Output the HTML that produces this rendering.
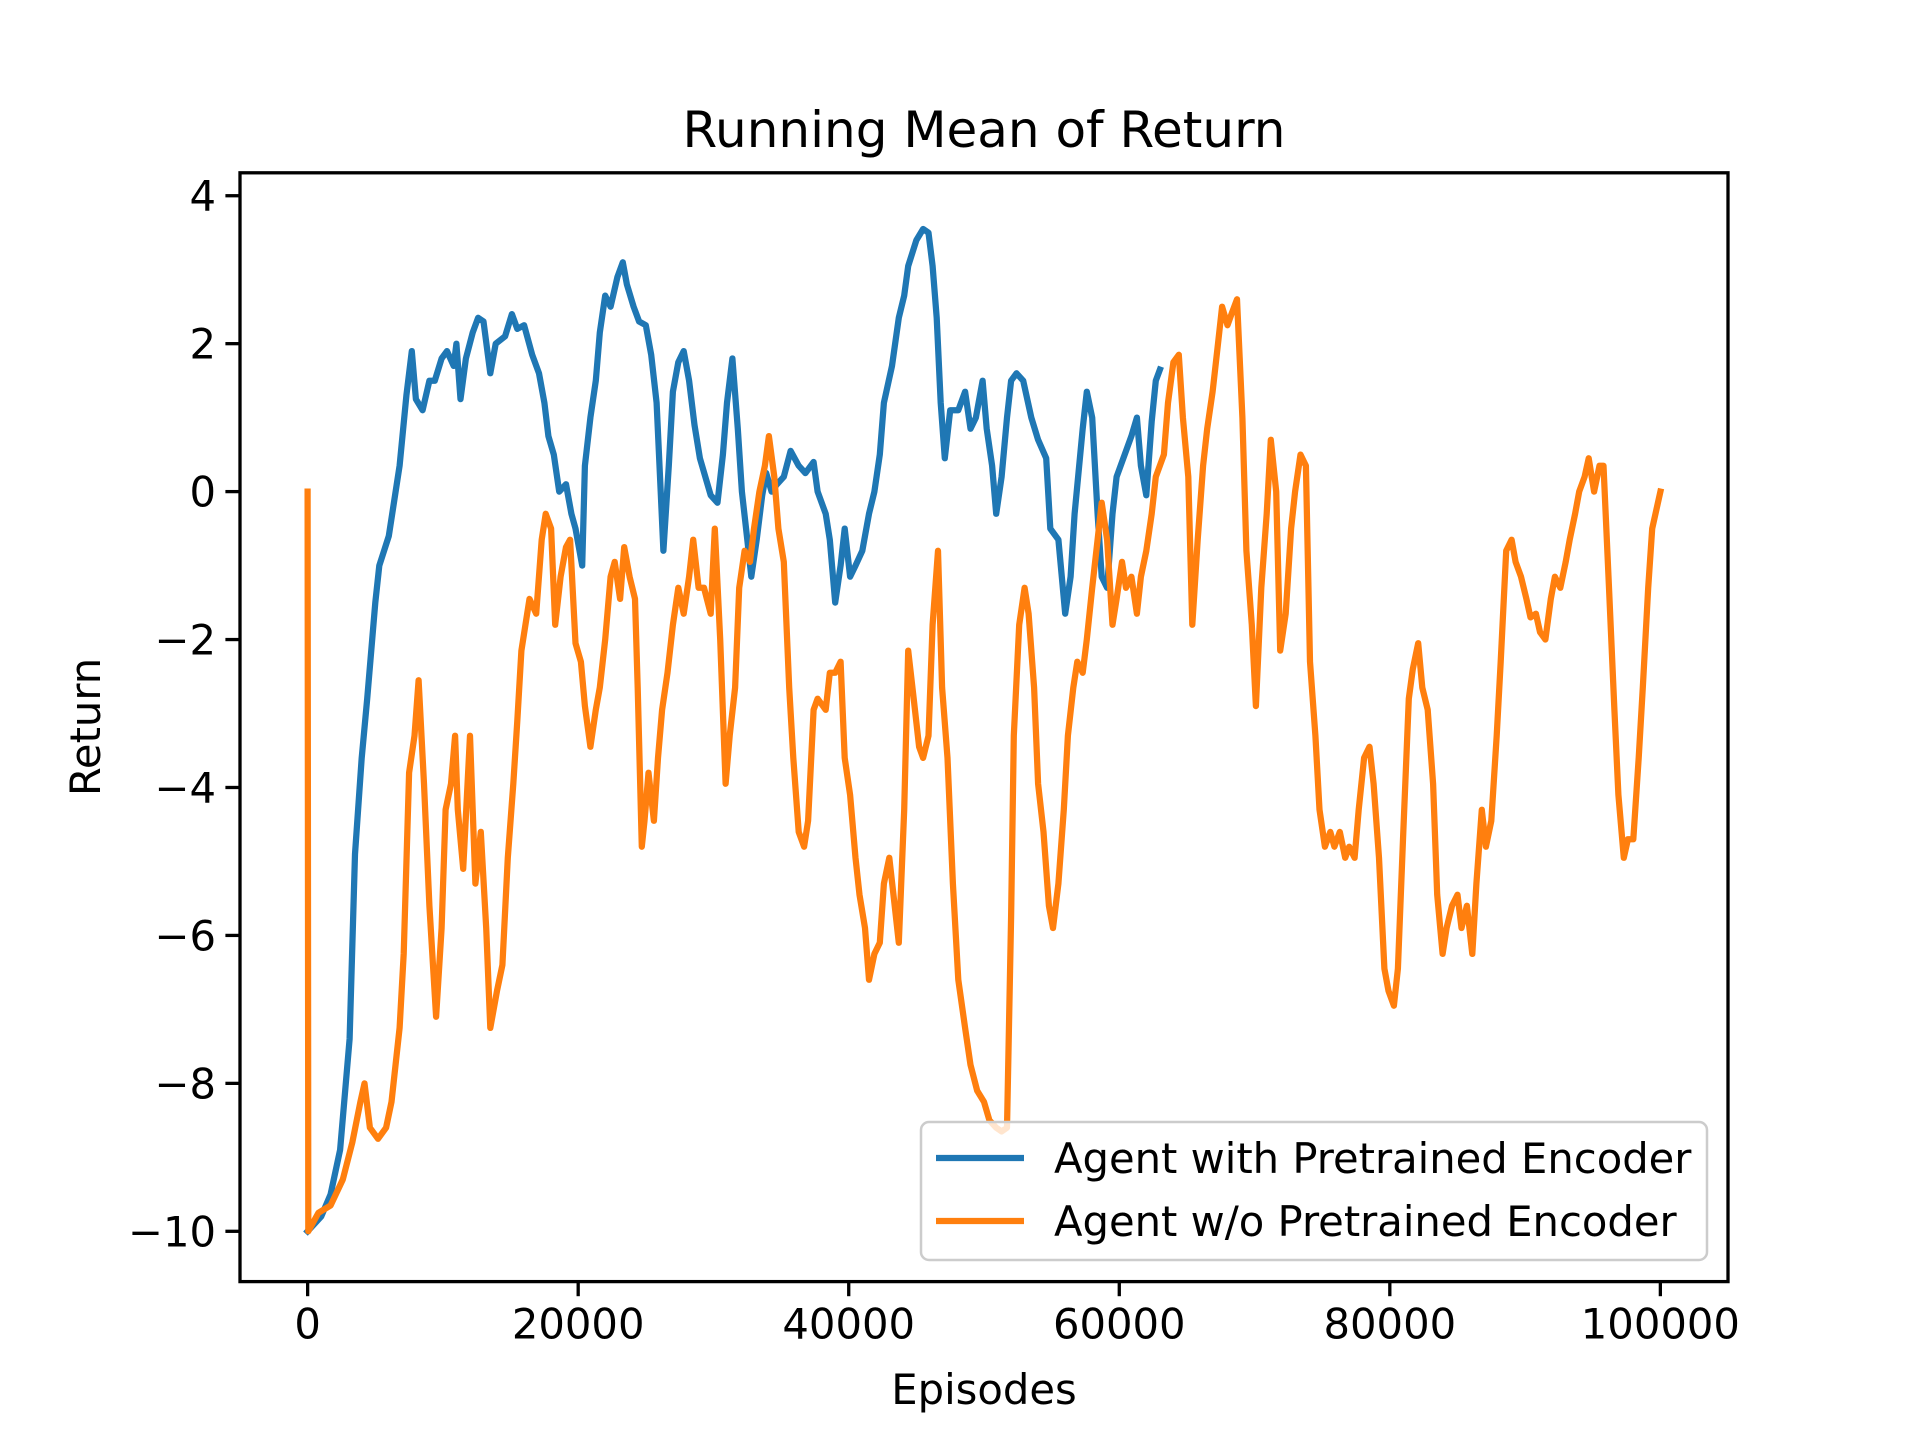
<!DOCTYPE html>
<html><head><meta charset="utf-8"><style>
html,body{margin:0;padding:0;background:#fff;}
svg{display:block;font-family:"DejaVu Sans","Liberation Sans",sans-serif;}
</style></head><body>
<svg id="chart" width="1920" height="1440" viewBox="0 0 1920 1440" xmlns="http://www.w3.org/2000/svg">
<rect width="1920" height="1440" fill="#fff"/>
<text x="984" y="147" font-size="50" text-anchor="middle">Running Mean of Return</text>
<defs><clipPath id="clip"><rect x="240" y="172.8" width="1488" height="1108.8"/></clipPath></defs>
<g id="series" clip-path="url(#clip)"></g>
<g id="axes"></g>
<rect x="240" y="172.8" width="1488" height="1108.8" fill="none" stroke="#000" stroke-width="3.3"/>
<text x="984" y="1404" font-size="41.7" text-anchor="middle">Episodes</text>
<text transform="translate(100,727) rotate(-90)" font-size="41.7" text-anchor="middle">Return</text>
<g>
<rect x="921" y="1122" width="786" height="138" rx="8" fill="#fff" fill-opacity="0.8" stroke="#ccc" stroke-width="2.5"/>
<line x1="936" y1="1158" x2="1024" y2="1158" stroke="#1f77b4" stroke-width="6.25"/>
<text x="1054" y="1173" font-size="41.7">Agent with Pretrained Encoder</text>
<line x1="936" y1="1221" x2="1024" y2="1221" stroke="#ff7f0e" stroke-width="6.25"/>
<text x="1054" y="1236" font-size="41.7">Agent w/o Pretrained Encoder</text>
</g>
</svg>
<script>
const xTicks=[0,20000,40000,60000,80000,100000];
const yTicks=[4,2,0,-2,-4,-6,-8,-10];
const blueX=[0,1,1.7,2.4,3.1,3.5,4,4.4,5,5.3,6,6.8,7.3,7.7,8,8.5,9,9.4,9.9,10.3,10.8,11,11.3,11.7,12.2,12.6,13,13.5,13.9,14.6,15.1,15.5,16,16.6,17.1,17.5,17.8,18.2,18.6,19.1,19.5,19.8,20.3,20.5,20.9,21.3,21.6,22,22.4,22.9,23.3,23.6,24.1,24.5,25,25.4,25.8,26.1,26.3,26.7,27,27.4,27.8,28.2,28.6,29,29.4,29.8,30.3,30.7,31,31.4,31.8,32.1,32.5,32.8,33.2,33.6,33.9,34.3,34.7,35.2,35.7,36.3,36.8,37.4,37.7,38.3,38.6,39,39.4,39.7,40.1,40.5,41,41.5,41.9,42.3,42.6,43.2,43.7,44.1,44.4,45,45.5,45.9,46.2,46.5,46.8,47.1,47.5,48.1,48.6,49,49.4,49.9,50.2,50.6,50.9,51.3,51.7,52,52.4,52.9,53.5,54,54.6,54.9,55.5,56,56.4,56.7,57.3,57.6,58,58.4,58.7,59.1,59.5,59.8,60.4,60.9,61.3,61.6,62,62.4,62.7,63];
const blueY=[-10,-9.8,-9.5,-8.9,-7.4,-4.9,-3.6,-2.8,-1.5,-1.0,-0.6,0.35,1.3,1.9,1.25,1.1,1.5,1.5,1.8,1.9,1.7,2.0,1.25,1.8,2.15,2.35,2.3,1.6,2.0,2.1,2.4,2.2,2.25,1.85,1.6,1.2,0.75,0.5,0.0,0.1,-0.3,-0.5,-1.0,0.35,1.0,1.5,2.15,2.65,2.5,2.9,3.1,2.8,2.5,2.3,2.25,1.85,1.2,0.0,-0.8,0.35,1.35,1.75,1.9,1.5,0.9,0.45,0.2,-0.05,-0.15,0.5,1.2,1.8,0.85,0.0,-0.65,-1.15,-0.65,-0.05,0.25,0.0,0.1,0.2,0.55,0.35,0.25,0.4,0.0,-0.3,-0.65,-1.5,-1.0,-0.5,-1.15,-1.0,-0.8,-0.3,0.0,0.5,1.2,1.7,2.35,2.65,3.05,3.4,3.55,3.5,3.05,2.35,1.2,0.45,1.1,1.1,1.35,0.85,1.0,1.5,0.85,0.35,-0.3,0.2,1.0,1.5,1.6,1.5,1.0,0.7,0.45,-0.5,-0.65,-1.65,-1.15,-0.3,0.85,1.35,1.0,-0.3,-1.15,-1.3,-0.3,0.2,0.5,0.75,1.0,0.35,-0.05,0.95,1.5,1.65];
const orangeX=[0,0.05,0.8,1.7,2.6,3.3,3.9,4.2,4.6,5.2,5.8,6.2,6.8,7.1,7.5,7.9,8.2,8.6,9,9.5,9.9,10.2,10.6,10.9,11.1,11.5,12,12.4,12.8,13.2,13.5,14,14.4,14.8,15.2,15.5,15.8,16.4,16.9,17.3,17.6,18,18.3,18.7,19.1,19.4,19.8,20.2,20.5,20.9,21.3,21.6,22,22.4,22.7,23.1,23.4,23.8,24.2,24.4,24.7,24.9,25.2,25.6,25.9,26.2,26.6,27,27.4,27.8,28.2,28.5,28.9,29.3,29.8,30.1,30.5,30.9,31.2,31.6,31.9,32.3,32.7,33,33.4,33.8,34.1,34.5,34.8,35.2,35.6,35.9,36.3,36.7,37,37.4,37.7,38.3,38.6,39,39.4,39.7,40.1,40.5,40.8,41.2,41.5,41.9,42.3,42.6,43,43.4,43.7,44.1,44.4,44.8,45.2,45.5,45.9,46.2,46.6,46.9,47.3,47.7,48.1,48.6,49,49.5,50,50.4,50.9,51.3,51.7,52,52.2,52.6,53,53.3,53.7,54,54.4,54.8,55.1,55.5,55.9,56.2,56.6,56.9,57.3,57.6,58,58.4,58.7,59.1,59.5,59.8,60.2,60.5,60.9,61.3,61.6,62,62.4,62.7,63.3,63.6,64,64.4,64.7,65.1,65.4,65.8,66.2,66.5,66.9,67.3,67.6,68,68.3,68.7,69.1,69.4,69.8,70.1,70.5,70.9,71.2,71.6,71.9,72.3,72.7,73,73.4,73.8,74.1,74.5,74.8,75.2,75.6,75.9,76.3,76.7,77,77.4,77.7,78.1,78.5,78.8,79.2,79.6,79.9,80.3,80.6,81,81.4,81.7,82.1,82.4,82.8,83.2,83.5,83.9,84.2,84.6,85,85.3,85.7,86.1,86.4,86.8,87.1,87.5,87.9,88.2,88.6,89,89.3,89.7,90.1,90.4,90.8,91.1,91.5,91.9,92.2,92.6,93,93.3,93.7,94,94.4,94.7,95.1,95.5,95.8,96.2,96.6,96.9,97.3,97.6,98,98.4,98.7,99.1,99.4,100];
const orangeY=[0,-10,-9.75,-9.65,-9.3,-8.8,-8.25,-8.0,-8.6,-8.75,-8.6,-8.25,-7.25,-6.25,-3.8,-3.3,-2.55,-3.95,-5.6,-7.1,-5.9,-4.3,-3.95,-3.3,-4.3,-5.1,-3.3,-5.3,-4.6,-5.9,-7.25,-6.75,-6.4,-4.95,-3.95,-3.1,-2.15,-1.45,-1.65,-0.65,-0.3,-0.5,-1.8,-1.15,-0.75,-0.65,-2.05,-2.3,-2.9,-3.45,-2.95,-2.65,-2.0,-1.15,-0.95,-1.45,-0.75,-1.15,-1.45,-2.65,-4.8,-4.45,-3.8,-4.45,-3.6,-2.95,-2.45,-1.8,-1.3,-1.65,-1.15,-0.65,-1.3,-1.3,-1.65,-0.5,-2.0,-3.95,-3.3,-2.65,-1.3,-0.8,-0.95,-0.5,0.0,0.35,0.75,0.2,-0.5,-0.95,-2.65,-3.6,-4.6,-4.8,-4.45,-2.95,-2.8,-2.95,-2.45,-2.45,-2.3,-3.6,-4.1,-4.95,-5.45,-5.9,-6.6,-6.25,-6.1,-5.3,-4.95,-5.6,-6.1,-4.3,-2.15,-2.8,-3.45,-3.6,-3.3,-1.8,-0.8,-2.65,-3.6,-5.3,-6.6,-7.25,-7.75,-8.1,-8.25,-8.5,-8.6,-8.65,-8.6,-5.75,-3.3,-1.8,-1.3,-1.65,-2.65,-3.95,-4.6,-5.6,-5.9,-5.3,-4.3,-3.3,-2.65,-2.3,-2.45,-2.0,-1.3,-0.65,-0.15,-0.65,-1.8,-1.45,-0.95,-1.3,-1.15,-1.65,-1.15,-0.8,-0.3,0.2,0.5,1.2,1.75,1.85,1.0,0.2,-1.8,-0.65,0.35,0.85,1.35,2.0,2.5,2.25,2.4,2.6,1.0,-0.8,-1.8,-2.9,-1.3,-0.3,0.7,0.0,-2.15,-1.65,-0.5,0.0,0.5,0.35,-2.3,-3.3,-4.3,-4.8,-4.6,-4.8,-4.6,-4.95,-4.8,-4.95,-4.3,-3.6,-3.45,-3.95,-4.95,-6.45,-6.75,-6.95,-6.45,-4.6,-2.8,-2.4,-2.05,-2.65,-2.95,-3.95,-5.45,-6.25,-5.9,-5.6,-5.45,-5.9,-5.6,-6.25,-5.3,-4.3,-4.8,-4.45,-3.3,-2.3,-0.8,-0.65,-0.95,-1.15,-1.45,-1.7,-1.65,-1.9,-2.0,-1.45,-1.15,-1.3,-0.95,-0.65,-0.3,0.0,0.2,0.45,0.0,0.35,0.35,-1.3,-2.95,-4.1,-4.95,-4.7,-4.7,-3.6,-2.65,-1.3,-0.5,0.0];

const L=240,R=1728,T=172.8,B=1281.6;
const xMin=-5000,xMax=105000,yMin=-10.68,yMax=4.31;
function sx(v){return L+(v-xMin)/(xMax-xMin)*(R-L);}
function sy(v){return T+(yMax-v)/(yMax-yMin)*(B-T);}
const NS='http://www.w3.org/2000/svg';
const axes=document.getElementById('axes');
xTicks.forEach(t=>{
  const l=document.createElementNS(NS,'line');
  l.setAttribute('x1',sx(t));l.setAttribute('x2',sx(t));l.setAttribute('y1',B);l.setAttribute('y2',B+14.6);
  l.setAttribute('stroke','#000');l.setAttribute('stroke-width','3.3');
  
  
  axes.appendChild(l);
  const tx=document.createElementNS(NS,'text');
  tx.setAttribute('x',sx(t));tx.setAttribute('y',B+57);tx.setAttribute('font-size','41.7');tx.setAttribute('text-anchor','middle');
  tx.textContent=String(t);
  
  
  axes.appendChild(tx);
});
yTicks.forEach(t=>{
  const l=document.createElementNS(NS,'line');
  l.setAttribute('x1',L-14.6);l.setAttribute('x2',L);l.setAttribute('y1',sy(t));l.setAttribute('y2',sy(t));
  l.setAttribute('stroke','#000');l.setAttribute('stroke-width','3.3');
  
  
  axes.appendChild(l);
  const tx=document.createElementNS(NS,'text');
  tx.setAttribute('x',L-24);tx.setAttribute('y',sy(t)+15);tx.setAttribute('font-size','41.7');tx.setAttribute('text-anchor','end');
  tx.textContent=(t<0?'\u2212'+Math.abs(t):String(t));
  
  
  axes.appendChild(tx);
});
const series=document.getElementById('series');
function draw(xs,ys,color,name){
  const d=xs.map((x,i)=>(i?'L':'M')+sx(x*1000).toFixed(1)+' '+sy(ys[i]).toFixed(1)).join(' ');
  const p=document.createElementNS(NS,'path');
  p.setAttribute('d',d);p.setAttribute('fill','none');p.setAttribute('stroke',color);
  p.setAttribute('stroke-width','6.25');p.setAttribute('stroke-linejoin','round');p.setAttribute('stroke-linecap','square');
  
  
  series.appendChild(p);
}
draw(blueX,blueY,'#1f77b4','line-pretrained-encoder');
draw(orangeX,orangeY,'#ff7f0e','line-no-pretrained-encoder');
</script>
</body></html>
